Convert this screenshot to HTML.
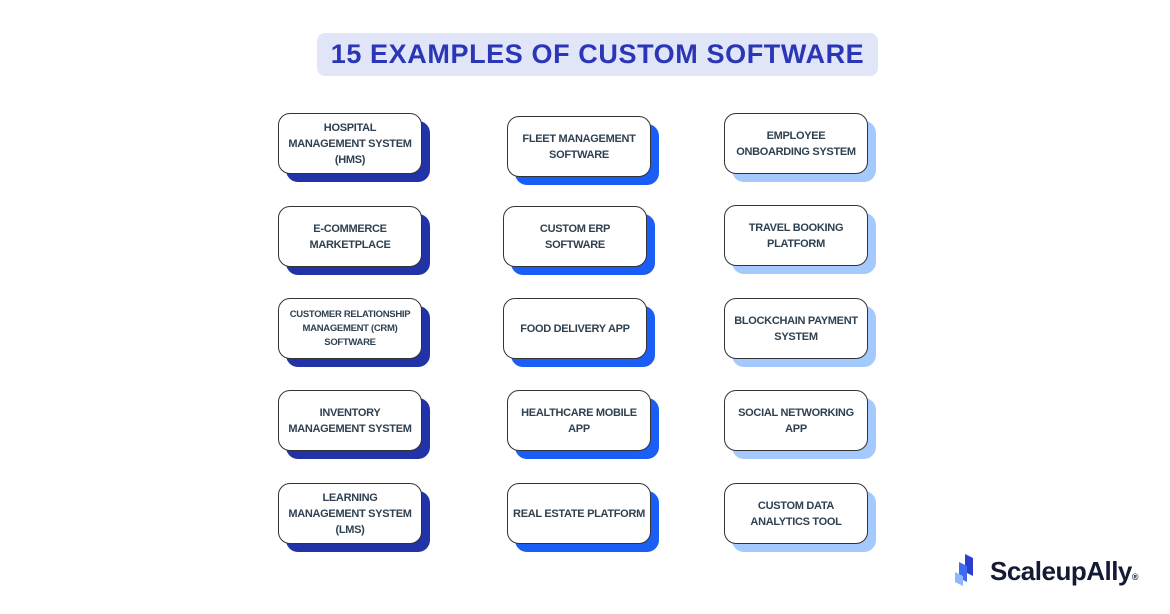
<!DOCTYPE html>
<html><head><meta charset="utf-8"><style>
body{margin:0;width:1170px;height:614px;background:#fff;position:relative;overflow:hidden;font-family:"Liberation Sans",sans-serif}
.t{position:absolute;left:317px;top:33px;width:561px;height:43px;background:#e1e5f8;border-radius:8px;color:#2a36b5;font-weight:bold;font-size:27px;line-height:43px;text-align:center;letter-spacing:0.6px}
.b{position:absolute;width:144px;height:61px;box-sizing:border-box;border:1.5px solid #333;border-radius:12px;background:#fff;display:flex;align-items:center;justify-content:center;text-align:center;font-weight:bold;font-size:11px;line-height:16px;color:#2f4150;letter-spacing:-0.3px;padding:0 7px}
.c1{box-shadow:8px 8px 0 #2233a8}
.c2{box-shadow:8px 8px 0 #1a5ef5}
.c3{box-shadow:8px 8px 0 #a4c9fd}
.logo{position:absolute;left:990px;top:556px;font-weight:bold;font-size:26px;color:#141a33;letter-spacing:-0.5px}
</style></head><body>
<div class="t">15 EXAMPLES OF CUSTOM SOFTWARE</div>

<div class="b c1" style="left:278px;top:113px">HOSPITAL MANAGEMENT SYSTEM (HMS)</div>
<div class="b c1" style="left:278px;top:206px">E-COMMERCE MARKETPLACE</div>
<div class="b c1" style="left:278px;top:298px;font-size:9.5px;line-height:14px">CUSTOMER RELATIONSHIP MANAGEMENT (CRM) SOFTWARE</div>
<div class="b c1" style="left:278px;top:390px">INVENTORY MANAGEMENT SYSTEM</div>
<div class="b c1" style="left:278px;top:483px">LEARNING MANAGEMENT SYSTEM (LMS)</div>

<div class="b c2" style="left:507px;top:116px">FLEET MANAGEMENT SOFTWARE</div>
<div class="b c2" style="left:503px;top:206px">CUSTOM ERP SOFTWARE</div>
<div class="b c2" style="left:503px;top:298px">FOOD DELIVERY APP</div>
<div class="b c2" style="left:507px;top:390px">HEALTHCARE MOBILE APP</div>
<div class="b c2" style="left:507px;top:483px;white-space:nowrap;padding:0 2px">REAL ESTATE PLATFORM</div>

<div class="b c3" style="left:724px;top:113px">EMPLOYEE ONBOARDING SYSTEM</div>
<div class="b c3" style="left:724px;top:205px">TRAVEL BOOKING PLATFORM</div>
<div class="b c3" style="left:724px;top:298px">BLOCKCHAIN PAYMENT SYSTEM</div>
<div class="b c3" style="left:724px;top:390px">SOCIAL NETWORKING APP</div>
<div class="b c3" style="left:724px;top:483px">CUSTOM DATA ANALYTICS TOOL</div>

<svg style="position:absolute;left:955px;top:554px" width="34" height="34" viewBox="0 0 34 34">
<polygon points="10,0 18,4 18,22 10,18" fill="#2a3fd0"/>
<polygon points="4,8 12,12 12,28 4,24" fill="#3d6cf0"/>
<polygon points="0,18 8,22 8,32 0,28" fill="#8fb8fb"/>
</svg>
<div class="logo">ScaleupAlly<span style="font-size:9px">®</span></div>
</body></html>
